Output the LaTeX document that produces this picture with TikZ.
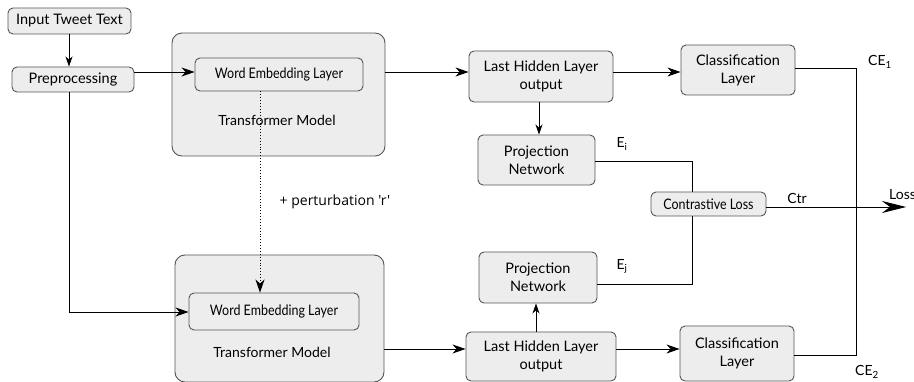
\documentclass[tikz,border=0pt]{standalone}
\usepackage{fontspec}
\setmainfont{Lato}
\newfontfamily\pertfont{Open Sans}
\usetikzlibrary{arrows.meta}
\definecolor{boxfill}{HTML}{EDEDED}
\definecolor{boxline}{HTML}{555555}
\tikzset{
  box/.style={draw=boxline, fill=boxfill, rounded corners=5pt, line width=0.9pt, align=center, inner sep=0pt, font=\fontsize{14.5}{18}\selectfont},
  bigbox/.style={draw=boxline, fill=boxfill, rounded corners=10pt, line width=0.9pt, inner sep=0pt},
  conn/.style={draw=black, line width=0.9pt},
  arr/.style={conn, -{Stealth[length=13pt,width=9pt,inset=4pt]}},
  sarr/.style={conn, -{Stealth[length=10pt,width=7pt,inset=3pt]}},
  bigarr/.style={conn, -{Stealth[length=24pt,width=12pt,inset=8pt]}},
  lbl/.style={font=\fontsize{14}{17}\selectfont, inner sep=0pt},
}
\newcommand{\cond}[1]{\scalebox{0.86}[1]{#1}}
\begin{document}
\begin{tikzpicture}[x=1pt,y=-1pt]
\useasboundingbox (0,0) rectangle (914,382);
% big boxes
\node[bigbox, minimum width=213pt, minimum height=123pt] (tm1) at (278.5,94.5) {};
\node[bigbox, minimum width=209pt, minimum height=127pt] (tm2) at (279.5,318.5) {};
\node[lbl] (tm1l) at (277,120) {Transformer Model};
\node[lbl] (tm2l) at (272,352) {Transformer Model};
% boxes
\node[box, minimum width=123pt, minimum height=26pt] (inp) at (69.5,21) {Input Tweet Text};
\node[box, minimum width=122pt, minimum height=25pt] (pre) at (73,79.5) {Preprocessing};
\node[box, minimum width=168pt, minimum height=33pt] (we1) at (279,74.5) {\cond{Word Embedding Layer}};
\node[box, minimum width=170pt, minimum height=37pt] (we2) at (274,311.5) {\cond{Word Embedding Layer}};
\node[box, minimum width=144pt, minimum height=51pt] (lh1) at (541,76.5) {Last Hidden Layer\\output};
\node[box, minimum width=150pt, minimum height=49pt] (lh2) at (541,356.5) {Last Hidden Layer\\output};
\node[box, minimum width=114pt, minimum height=50pt] (cl1) at (738,70) {Classification\\Layer};
\node[box, minimum width=114pt, minimum height=55pt] (cl2) at (737,353.5) {Classification\\Layer};
\node[box, minimum width=117pt, minimum height=50pt] (pj1) at (536.5,160) {Projection\\Network};
\node[box, minimum width=118pt, minimum height=51pt] (pj2) at (538,277.5) {Projection\\Network};
\node[box, minimum width=115pt, minimum height=24pt] (ctr) at (708.5,204) {\cond{Contrastive Loss}};
% labels
\node[lbl] (ce1) at (880,62) {CE\textsubscript{1}};
\node[lbl] (ce2) at (867,372) {CE\textsubscript{2}};
\node[lbl] (ei) at (622,144) {E\textsubscript{i}};
\node[lbl] (ej) at (622,266) {E\textsubscript{j}};
\node[lbl] (ctrl) at (797,198) {Ctr};
\node[lbl, anchor=west] (loss) at (889,195) {Loss};
\node[font=\pertfont\fontsize{14}{17}\selectfont, inner sep=0pt] (pert) at (335,202) {+ perturbation 'r'};
% coordinates
\coordinate (lossend) at (906,207);
\coordinate (vtop) at (856,68);
\coordinate (vbot) at (856,355);
% connectors
\draw[sarr] (inp.south -| 69,0) -- (pre.north -| 69,0);
\draw[arr] (pre.east |- 0,72) -- (we1.west |- 0,72);
\draw[arr] (pre.south -| 69,0) -- (69,312) -- (we2.west |- 0,312);
\draw[arr, dotted] (we1.south -| 260,0) -- (we2.north -| 260,0);
\draw[arr] (tm1.east |- 0,72) -- (lh1.west |- 0,72);
\draw[arr] (lh1.east |- 0,72) -- (cl1.west |- 0,72);
\draw[sarr] (lh1.south -| 539,0) -- (pj1.north -| 539,0);
\draw[arr] (tm2.east |- 0,349) -- (lh2.west |- 0,349);
\draw[arr] (lh2.east |- 0,349) -- (cl2.west |- 0,349);
\draw[sarr] (lh2.north -| 536,0) -- (pj2.south -| 536,0);
\draw[conn] (pj1.east |- 0,161) -- (692,161) -- (ctr.north -| 692,0);
\draw[conn] (pj2.east |- 0,284) -- (692,284) -- (ctr.south -| 692,0);
\draw[conn] (cl1.east |- 0,68) -- (vtop) -- (vbot) -- (cl2.east |- 0,355);
\draw[bigarr] (ctr.east |- 0,207) -- (lossend);
\end{tikzpicture}
\end{document}
